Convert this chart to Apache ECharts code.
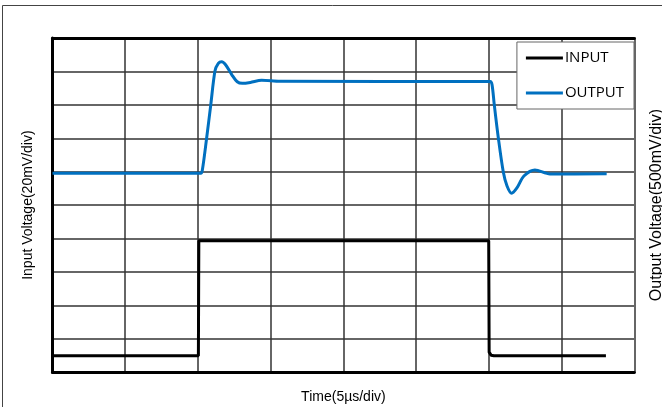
<!DOCTYPE html>
<html>
<head>
<meta charset="utf-8">
<script src="https://cdn.jsdelivr.net/npm/echarts@6/dist/echarts.min.js"></script>
<style>
html,body{margin:0;padding:0;background:#fff;}
#c{width:662px;height:407px;}
</style>
</head>
<body>
<div id="c"></div>
<script>
// Time in microseconds (5 us/div), voltages in mV
var inputTime  = [0, 10.03, 10.06, 29.99, 30.02, 30.15, 30.35, 38.05];
var inputMV    = [9.9, 9.9, 78.7, 78.7, 12.0, 10.2, 9.9, 9.9];

var outputTime = [0, 10.2, 10.3, 10.6, 10.88, 11.17, 11.4, 11.63, 11.9, 12.34, 12.7, 13.05, 13.6, 14.38, 15.64,
                  30.1, 30.22, 30.37, 30.65, 30.99, 31.25, 31.57, 31.93, 32.41, 33.17, 34.2, 38.1];
var outputMV   = [2976, 2976, 3020, 3508, 3998, 4506, 4620, 4645, 4600, 4446, 4345, 4322, 4335, 4367, 4352,
                  4350, 4300, 4008, 3508, 3000, 2786, 2677, 2756, 2935, 3025, 2965, 2970];

var seriesNames = ['INPUT', 'OUTPUT'];
var xAxisName = 'Time(5\u00b5s/div)';
var yLeftName = 'Input Voltage(20mV/div)';
var yRightName = 'Output Voltage(500mV/div)';

function pairs(xs, ys){ return xs.map(function(x,i){ return [x, ys[i]]; }); }

var chart = echarts.init(document.getElementById('c'), null, {renderer:'canvas'});
var font = '"Liberation Sans", Arial, sans-serif';
chart.setOption({
  animation: false,
  backgroundColor: '#fff',
  graphic: [{
    type: 'rect', silent: true, z: -10,
    shape: {x: 2.5, y: 5.5, width: 800, height: 600},
    style: {fill: 'none', stroke: '#444', lineWidth: 1}
  }],
  grid: {left: 52.5, right: 27.7, top: 38, bottom: 34.8, containLabel: false, outerBoundsMode: 'none'},
  legend: {
    data: seriesNames.map(function(n){ return {name: n, icon: 'rect'}; }),
    orient: 'vertical',
    right: 28, top: 42,
    itemWidth: 37, itemHeight: 3, itemGap: 15,
    padding: [6, 10, 6, 9],
    backgroundColor: '#fff',
    borderColor: '#666', borderWidth: 1, borderRadius: 0,
    textStyle: {fontFamily: '"Open Sans", sans-serif', fontSize: 15, color: '#000', lineHeight: 20, padding: [0,0,0,-3]},
    z: 10
  },
  xAxis: [{
    type: 'value', min: 0, max: 40, interval: 5,
    name: xAxisName, nameLocation: 'middle', nameGap: 18,
    nameTextStyle: {fontFamily: font, fontSize: 14, color: '#000'},
    axisLine: {show: true, onZero: false, lineStyle: {color: '#000', width: 3}},
    axisTick: {show: false}, axisLabel: {show: false},
    splitLine: {show: true, lineStyle: {color: '#333', width: 1.5}}
  }, {
    type: 'value', min: 0, max: 40, interval: 5, position: 'top',
    axisLine: {show: true, onZero: false, lineStyle: {color: '#000', width: 3}},
    axisTick: {show: false}, axisLabel: {show: false}, splitLine: {show: false}
  }],
  yAxis: [{
    type: 'value', min: 0, max: 200, interval: 20, position: 'left',
    name: yLeftName, nameLocation: 'middle', nameGap: 17, nameRotate: 90,
    nameTextStyle: {fontFamily: font, fontSize: 14, color: '#000'},
    axisLine: {show: true, onZero: false, lineStyle: {color: '#000', width: 3}},
    axisTick: {show: false}, axisLabel: {show: false},
    splitLine: {show: true, lineStyle: {color: '#333', width: 1.5}}
  }, {
    type: 'value', min: 0, max: 5000, interval: 500, position: 'right',
    name: yRightName, nameLocation: 'middle', nameGap: 14, nameRotate: 90,
    nameTextStyle: {fontFamily: font, fontSize: 16, color: '#000'},
    axisLine: {show: true, onZero: false, lineStyle: {color: '#666', width: 2}},
    axisTick: {show: false}, axisLabel: {show: false}, splitLine: {show: false}
  }],
  series: [{
    name: seriesNames[0], type: 'line', yAxisIndex: 0, xAxisIndex: 0,
    data: pairs(inputTime, inputMV), showSymbol: false, symbol: 'none',
    lineStyle: {color: '#000', width: 3}, itemStyle: {color: '#000'}, z: 3
  }, {
    name: seriesNames[1], type: 'line', yAxisIndex: 1, xAxisIndex: 0,
    data: pairs(outputTime, outputMV), showSymbol: false, symbol: 'none', smooth: 0.3,
    lineStyle: {color: '#0070C0', width: 3}, itemStyle: {color: '#0070C0'}, z: 4
  }]
});
</script>
</body>
</html>
